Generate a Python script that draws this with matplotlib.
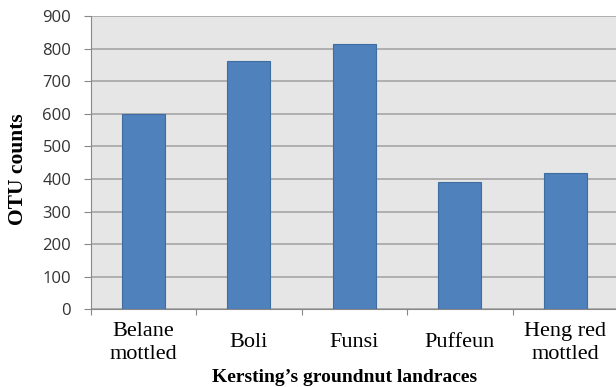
import numpy as np
import matplotlib.pyplot as plt

landraces = ["Belane\nmottled", "Boli", "Funsi", "Puffeun", "Heng red\nmottled"]
otu_counts = [600, 763, 813, 391, 419]
yticks = [0, 100, 200, 300, 400, 500, 600, 700, 800, 900]

fig = plt.figure(figsize=(6.16, 3.87), dpi=100)
ax = fig.add_axes([0.1472, 0.2008, 0.8560, 0.7579])
ax.set_facecolor("#e6e6e6")

x = np.arange(len(landraces))
ax.bar(x, otu_counts, width=0.41, color="#4f81bd", edgecolor="#3f6d9f",
       linewidth=0.8, zorder=3)

ax.set_xlim(-0.5, len(landraces) - 0.5)
ax.set_ylim(0, 900)
ax.set_yticks(yticks)
ax.set_yticklabels([str(v) for v in yticks], family="Open Sans",
                   fontsize=12, color="#333333")
ax.yaxis.grid(True, color="#a6a6a6", linewidth=1.2, zorder=0)

# category ticks sit between the bars
ax.set_xticks(np.arange(len(landraces) + 1) - 0.5)
ax.set_xticklabels([])
ax.set_xticks(x, minor=True)
ax.set_xticklabels(landraces, minor=True, family="Liberation Serif",
                   fontsize=16, va="center", linespacing=1.3)
ax.tick_params(axis="x", which="minor", length=0, pad=24)
ax.tick_params(axis="x", which="major", length=4, color="#888888")
ax.tick_params(axis="y", length=5, color="#888888", pad=9)

for side in ["top", "right"]:
    ax.spines[side].set_visible(False)
ax.spines["left"].set_color("#888888")
ax.spines["bottom"].set_color("#888888")

fig.text(18 / 616, 1 - 169 / 387, "OTU counts", family="Liberation Serif",
         fontsize=15.5, fontweight="bold", rotation=90,
         ha="center", va="center")
fig.text(0.56, 0.012, "Kersting\u2019s groundnut landraces",
         family="Liberation Serif", fontsize=14, fontweight="bold",
         ha="center", va="baseline")

fig.savefig("out.png", dpi=100)
